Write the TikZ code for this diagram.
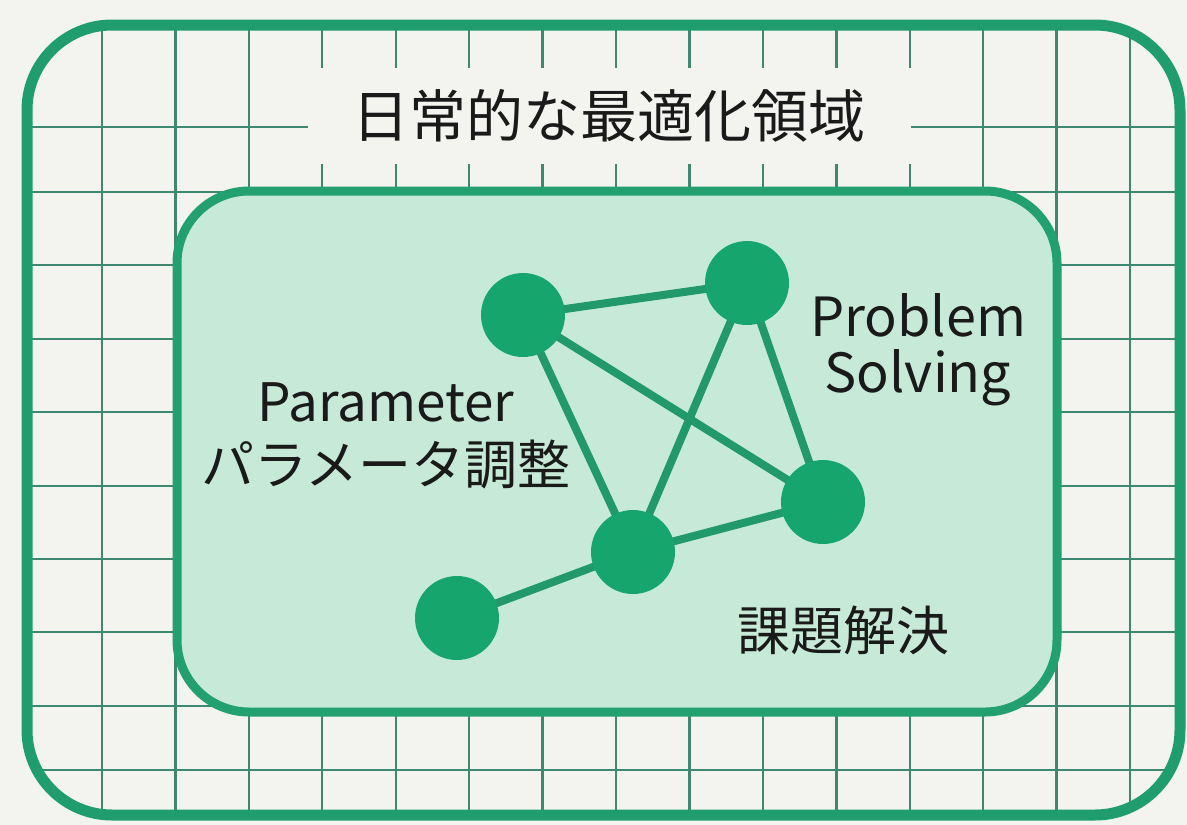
\documentclass[tikz,border=0pt]{standalone}
\usepackage{fontspec}
\setmainfont{Noto Sans CJK JP}
\definecolor{pagebg}{HTML}{F3F3F0}
\definecolor{outerg}{HTML}{1F9D6F}
\definecolor{gridc}{HTML}{3E8770}
\definecolor{innerfill}{HTML}{C7EAD8}
\definecolor{innerline}{HTML}{22A070}
\definecolor{dotc}{HTML}{17A56E}
\definecolor{edgec}{HTML}{22996B}
\definecolor{inkc}{HTML}{1A1A1A}
\pgfdeclarelayer{front}
\pgfsetlayers{main,front}
\begin{document}
\begin{tikzpicture}[x=1pt,y=-1pt,
  gridline/.style={draw=gridc, line width=2.4pt},
  outerframe/.style={draw=outerg, line width=11pt, rounded corners=85pt},
  innerframe/.style={draw=innerline, fill=innerfill, line width=9pt, rounded corners=72pt},
  titlebox/.style={fill=pagebg, inner sep=0pt, minimum width=603pt, minimum height=96pt, text=inkc, font=\fontsize{57}{60}\selectfont},
  dot/.style={circle, fill=dotc, inner sep=0pt, minimum size=84pt},
  link/.style={draw=edgec, line width=8pt},
  lbl/.style={text=inkc, align=center, inner sep=0pt}
]
\fill[pagebg] (0,0) rectangle (1187,825);
\useasboundingbox (0,0) rectangle (1187,825);
% grid clipped to the outer frame
\begin{scope}
  \clip[rounded corners=85pt] (27,25) rectangle (1180,815);
  \foreach \i in {0,...,14} \draw[gridline] ({102+73.43*\i},0) -- ({102+73.43*\i},825);
  \foreach \yy in {127,192,265,339,412,486,559,632,706,770} \draw[gridline] (0,\yy) -- (1187,\yy);
\end{scope}
\draw[outerframe] (27,25) rectangle (1180,815);
\draw[innerframe] (177,191) rectangle (1057,712);
% title
\node[titlebox] (title) at (609,116) {日常的な最適化領域};
% network nodes
\begin{pgfonlayer}{front}
  \node[dot] (a) at (523,315) {};
  \node[dot] (b) at (747,283) {};
  \node[dot] (c) at (823,502) {};
  \node[dot] (d) at (633,552) {};
  \node[dot] (e) at (457,618) {};
\end{pgfonlayer}
\draw[link] (a.center) -- (b.center);
\draw[link] (a.center) -- (c.center);
\draw[link] (a.center) -- (d.center);
\draw[link] (b.center) -- (d.center);
\draw[link] (b.center) -- (c.center);
\draw[link] (c.center) -- (d.center);
\draw[link] (d.center) -- (e.center);
% labels
\node[lbl, font=\fontsize{53}{63}\selectfont] (param) at (386,436) {Parameter\\パラメータ調整};
\node[lbl, font=\fontsize{54}{56}\selectfont] (prob) at (918,350) {Problem\\Solving};
\node[lbl, font=\fontsize{53}{60}\selectfont] (kadai) at (843,630) {課題解決};
\end{tikzpicture}
\end{document}
